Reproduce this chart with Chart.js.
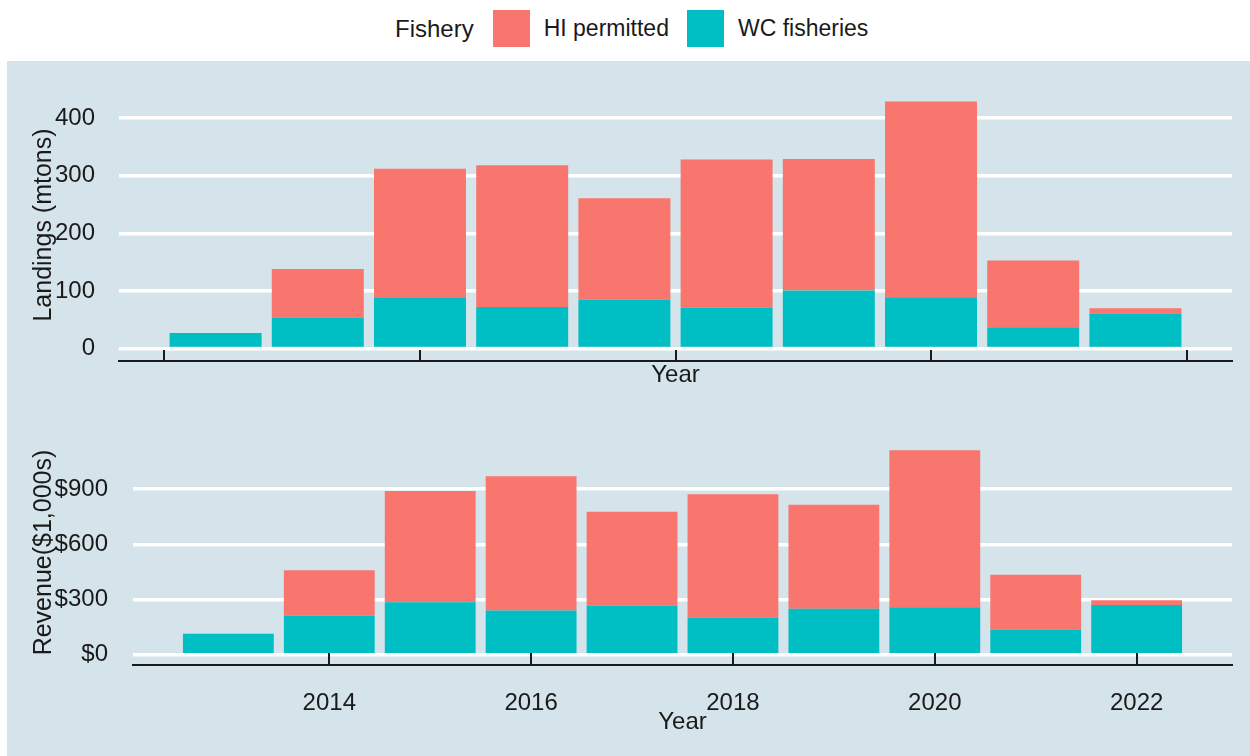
<!DOCTYPE html>
<html>
<head>
<meta charset="utf-8">
<script src="https://cdn.jsdelivr.net/npm/chart.js@4.4.1/dist/chart.umd.min.js"></script>
<style>
  body { margin: 0; background: #fff; font-family: 'Liberation Sans', Arial, sans-serif; }
  #page { position: relative; width: 1250px; height: 756px; overflow: hidden; }
  #legend { position: absolute; left: 395px; top: 10px; height: 37px; display: flex; align-items: center; font-size: 23px; color: #1a1a1a; white-space: nowrap; }
  #legend .title { font-size: 24px; margin-right: 19px; }
  #legend .box { width: 37px; height: 37px; margin-right: 14px; }
  #legend .lbl { margin-right: 18px; }
  #panel { position: absolute; left: 7px; top: 61px; width: 1243px; height: 695px; background: #d5e3ea; }
  #topWrap { position: absolute; left: 0; top: 0; }
  #botWrap { position: absolute; left: 0; top: 339px; }
</style>
</head>
<body>
<div id="page">
  <div id="legend"></div>
  <div id="panel">
    <div id="topWrap"><canvas id="landingsChart" width="1243" height="340"></canvas></div>
    <div id="botWrap"><canvas id="revenueChart" width="1243" height="356"></canvas></div>
  </div>
</div>
<script>
// data
const years = [2013, 2014, 2015, 2016, 2017, 2018, 2019, 2020, 2021, 2022];
const wcLandings = [27, 54, 88, 72, 85, 71, 101, 89, 37, 61];
const hiLandings = [0, 84, 224, 246, 176, 257, 228, 340, 116, 9];
const wcRevenue = [114, 212, 285, 241, 266, 201, 250, 259, 138, 270];
const hiRevenue = [0, 248, 605, 730, 511, 672, 565, 853, 297, 27];

const fisheryNames = ['HI permitted', 'WC fisheries'];
const fisheryColors = ['#F8766D', '#00BFC4'];

const topTicks = [2012.5, 2015, 2017.5, 2020, 2022.5];
const bottomTicks = [2014, 2016, 2018, 2020, 2022];
const landingTicks = [0, 100, 200, 300, 400];
const revenueTicks = [0, 300, 600, 900];

Chart.defaults.font.family = "'Liberation Sans', Arial, sans-serif";
Chart.defaults.color = '#1a1a1a';

// legend (html)
const legend = document.getElementById('legend');
legend.innerHTML = '<span class="title">Fishery</span>' + fisheryNames.map((n, i) =>
  `<span class="box" style="background:${fisheryColors[i]}"></span><span class="lbl">${n}</span>`).join('');

// ticks drawn upward from the axis line
const innerTicks = {
  id: 'innerTicks',
  afterDraw(chart, args, opts) {
    const xs = chart.scales.x;
    const ctx = chart.ctx;
    const yb = chart.chartArea.bottom;
    ctx.save();
    ctx.strokeStyle = '#1a1a1a';
    ctx.lineWidth = 2;
    opts.values.forEach(v => {
      const px = Math.round(xs.getPixelForValue(v));
      ctx.beginPath();
      ctx.moveTo(px, yb);
      ctx.lineTo(px, yb - opts.length);
      ctx.stroke();
    });
    ctx.restore();
  }
};

function toPoints(vals) {
  return years.map((yr, i) => ({ x: yr, y: vals[i] }));
}

function makeChart(id, wcVals, hiVals, cfg) {
  const ctx = document.getElementById(id).getContext('2d');
  return new Chart(ctx, {
    type: 'bar',
    data: {
      datasets: [
        { label: fisheryNames[1], data: toPoints(wcVals), backgroundColor: fisheryColors[1], borderWidth: 0 },
        { label: fisheryNames[0], data: toPoints(hiVals), backgroundColor: fisheryColors[0], borderWidth: 0 }
      ]
    },
    options: {
      responsive: false,
      animation: false,
      layout: { padding: cfg.padding },
      datasets: { bar: { categoryPercentage: 1, barPercentage: 0.9 } },
      scales: {
        x: {
          type: 'linear',
          stacked: true,
          offset: false,
          min: 2012.055,
          max: 2022.945,
          afterBuildTicks: scale => { scale.ticks = cfg.xTicks.map(v => ({ value: v })); },
          afterFit: scale => {
            scale.height = cfg.xHeight;
            scale.paddingLeft = 0;
            scale.paddingRight = 0;
          },
          grid: { display: false, drawTicks: false, offset: false },
          border: { display: true, color: '#1a1a1a', width: 2 },
          ticks: {
            display: cfg.showXLabels,
            padding: 24,
            font: { size: 24 },
            callback: v => String(v)
          },
          title: {
            display: true,
            text: 'Year',
            font: { size: 24 },
            padding: 0
          }
        },
        y: {
          stacked: true,
          min: cfg.yMin,
          max: cfg.yMax,
          afterBuildTicks: scale => { scale.ticks = cfg.yTicks.map(v => ({ value: v })); },
          afterFit: scale => {
            scale.width = cfg.yWidth;
            scale.paddingTop = 0;
            scale.paddingBottom = 0;
          },
          grid: { color: '#ffffff', lineWidth: 3.5, drawTicks: false },
          border: { display: false },
          ticks: {
            padding: cfg.yPad,
            font: { size: 24 },
            callback: cfg.yFormat
          },
          title: {
            display: true,
            text: cfg.yTitle,
            font: { size: 25 },
            padding: 0
          }
        }
      },
      plugins: {
        legend: { display: false },
        tooltip: { enabled: false },
        innerTicks: { values: cfg.tickMarks, length: cfg.tickLen }
      }
    },
    plugins: [innerTicks]
  });
}

makeChart('landingsChart', wcLandings, hiLandings, {
  padding: { top: 28, bottom: 11, left: 22, right: 18 },
  xTicks: topTicks,
  tickMarks: topTicks,
  tickLen: 11,
  showXLabels: false,
  xHeight: 29,
  yMin: -21.5,
  yMax: 450.5,
  yTicks: landingTicks,
  yWidth: 90,
  yPad: 24,
  yTitle: 'Landings (mtons)',
  yFormat: v => String(v)
});

makeChart('revenueChart', wcRevenue, hiRevenue, {
  padding: { top: 40, bottom: 19, left: 22, right: 18 },
  xTicks: bottomTicks,
  tickMarks: bottomTicks,
  tickLen: 12,
  showXLabels: true,
  xHeight: 72,
  yMin: -55.6,
  yMax: 1167.6,
  yTicks: revenueTicks,
  yWidth: 104,
  yPad: 25,
  yTitle: 'Revenue($1,000s)',
  yFormat: v => '$' + v
});
</script>
</body>
</html>
